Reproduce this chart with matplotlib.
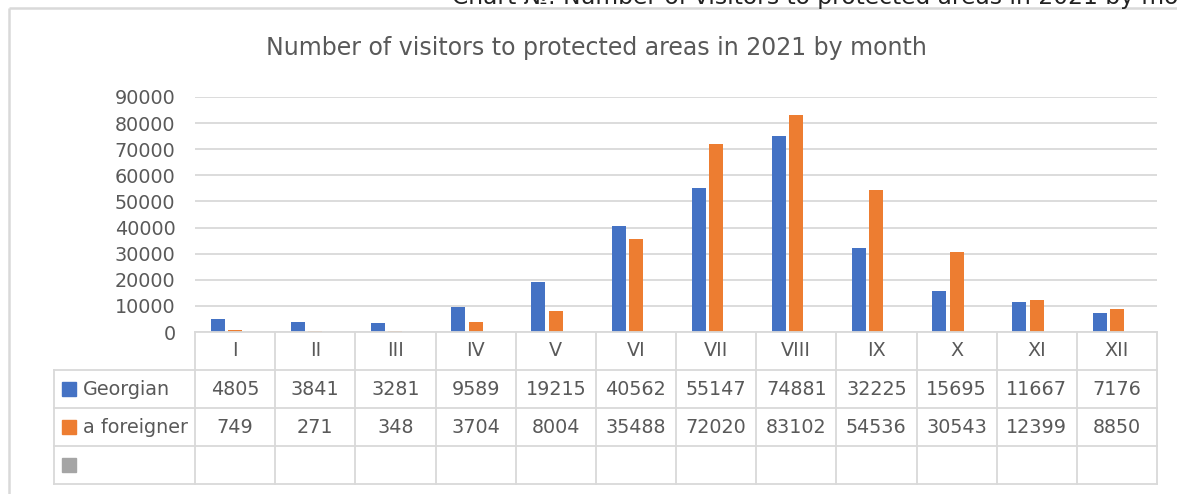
import numpy as np
import matplotlib
matplotlib.use("Agg")
from matplotlib import pyplot as plt
from matplotlib.lines import Line2D
from matplotlib.patches import Rectangle

# Data
months = ["I", "II", "III", "IV", "V", "VI", "VII", "VIII", "IX", "X", "XI", "XII"]
georgian = [4805, 3841, 3281, 9589, 19215, 40562, 55147, 74881, 32225, 15695, 11667, 7176]
foreigner = [749, 271, 348, 3704, 8004, 35488, 72020, 83102, 54536, 30543, 12399, 8850]
series_names = ["Georgian", "a foreigner", ""]
yticks = [0, 10000, 20000, 30000, 40000, 50000, 60000, 70000, 80000, 90000]

BLUE = "#4472C4"
ORANGE = "#ED7D31"
GRAY = "#A5A5A5"
TXT = "#595959"
LINE = "#D9D9D9"

W, H = 1177, 494
fig = plt.figure(figsize=(W / 100, H / 100), dpi=100)
plt.rcParams['font.family'] = ['DejaVu Sans']


def fx(x):
    return x / W


def fy(y):
    return 1 - y / H


# plot area in pixel coords
L, R, T, B = 195, 1157, 97, 332
ax = fig.add_axes([fx(L), fy(B), fx(R) - fx(L), (B - T) / H])

x = np.arange(len(months))
w = 0.175
step = 0.216
ax.bar(x - step, georgian, w, color=BLUE, zorder=3)
ax.bar(x, foreigner, w, color=ORANGE, zorder=3)

ax.set_xlim(-0.5, len(months) - 0.5)
ax.set_ylim(0, 90000)
ax.set_yticks(yticks)
ax.set_yticklabels([str(v) for v in yticks], fontsize=13.8, color=TXT)
ax.tick_params(axis='y', length=0, pad=14)
ax.set_xticks([])
ax.grid(axis='y', color=LINE, linewidth=1.3, zorder=0)
for s in ax.spines.values():
    s.set_visible(False)

# title
fig.text(fx(596), fy(48), "Number of visitors to protected areas in 2021 by month",
         ha='center', va='center', fontsize=17, color=TXT)

# caption of the page, cut off by the top edge as in the source
fig.text(fx(452), fy(4), "Chart №: Number of visitors to protected areas in 2021 by month",
         ha='left', va='baseline', fontsize=16.8, color="#222222")

# outer frame (left and top)
fig.add_artist(Line2D([fx(9), fx(9)], [fy(8), fy(494)], color=LINE, lw=1.8,
                      solid_capstyle='butt'))
fig.add_artist(Line2D([fx(9), fx(1177)], [fy(8), fy(8)], color=LINE, lw=1.8,
                      solid_capstyle='butt'))

# data table under the plot
col_w = (R - L) / len(months)
rows_y = [332, 370, 408, 446, 484]
TL = 54

def hline(x0, x1, y):
    fig.add_artist(Line2D([fx(x0), fx(x1)], [fy(y), fy(y)], color=LINE, lw=1.3))

def vline(x, y0, y1):
    fig.add_artist(Line2D([fx(x), fx(x)], [fy(y0), fy(y1)], color=LINE, lw=1.3))

hline(L, R, rows_y[0])
for y in rows_y[1:]:
    hline(TL, R, y)
vline(TL, rows_y[1], rows_y[-1])
for k in range(len(months) + 1):
    vline(L + k * col_w, rows_y[0], rows_y[-1])

for k, m in enumerate(months):
    cx = L + (k + 0.5) * col_w
    fig.text(fx(cx), fy((rows_y[0] + rows_y[1]) / 2), m, ha='center', va='center',
             fontsize=13.8, color=TXT)
    fig.text(fx(cx), fy((rows_y[1] + rows_y[2]) / 2), str(georgian[k]), ha='center',
             va='center', fontsize=13.8, color=TXT)
    fig.text(fx(cx), fy((rows_y[2] + rows_y[3]) / 2), str(foreigner[k]), ha='center',
             va='center', fontsize=13.8, color=TXT)

for i, (name, col) in enumerate(zip(series_names, [BLUE, ORANGE, GRAY])):
    cy = (rows_y[i + 1] + rows_y[i + 2]) / 2
    fig.add_artist(Rectangle((fx(62), fy(cy + 7)), 14 / W, 14 / H, color=col,
                             transform=fig.transFigure))
    if name:
        fig.text(fx(83), fy(cy), name, ha='left', va='center', fontsize=13.8, color=TXT)

fig.savefig("out.png", dpi=100)
